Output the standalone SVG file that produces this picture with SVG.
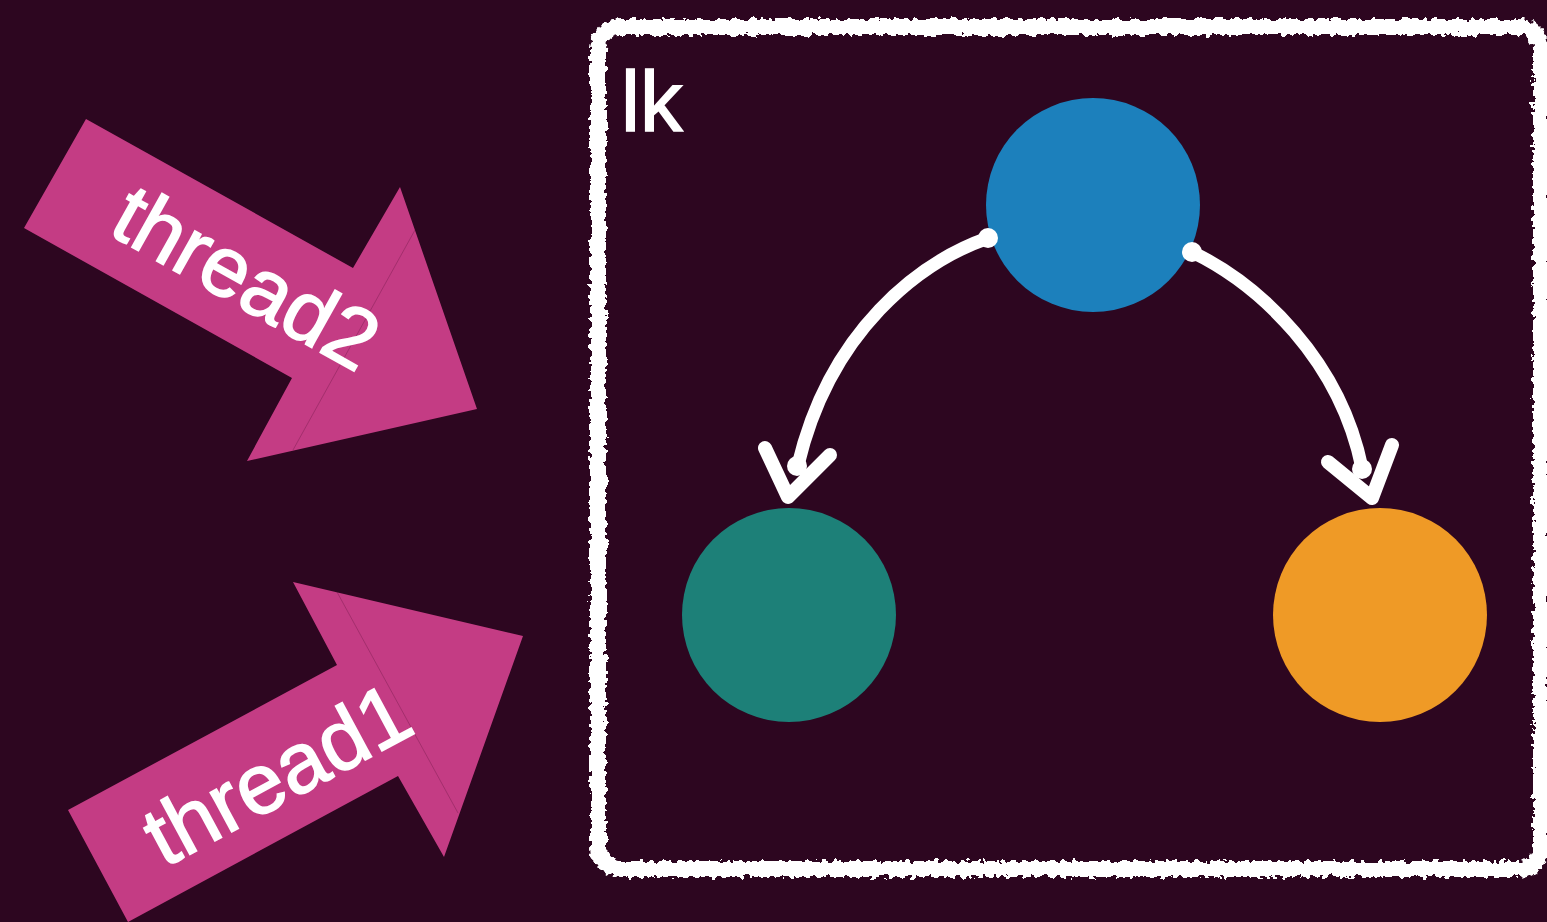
<svg xmlns="http://www.w3.org/2000/svg" width="1547" height="922" viewBox="0 0 1547 922">
  <style>
    .thread { fill: #c43c84; }
    .seam { stroke: #5a1038; stroke-width: 1; stroke-opacity: 0.3; fill: none; }
    .label { font-family: "Liberation Sans", Arial, Helvetica, sans-serif; fill: #ffffff; stroke: #ffffff; stroke-width: 1.6; font-size: 85px; }
    .conn { fill: none; stroke: #ffffff; stroke-width: 13; stroke-linecap: round; stroke-linejoin: round; }
    .head { fill: none; stroke: #ffffff; stroke-width: 14; stroke-linecap: round; stroke-linejoin: round; }
    .dot { fill: #ffffff; }
  </style>
  <defs>
    <filter id="rough" x="-3%" y="-3%" width="106%" height="106%">
      <feTurbulence type="fractalNoise" baseFrequency="0.18" numOctaves="2" seed="4" result="n"/>
      <feDisplacementMap in="SourceGraphic" in2="n" scale="10" xChannelSelector="R" yChannelSelector="G"/>
    </filter>
  </defs>
  <rect x="0" y="0" width="1547" height="922" fill="#2d0620"/>

  <g id="thread2">
    <polygon class="thread" points="86,119 353,268 400,187 477,409 247,461 292,378 24,228"/>
    <line class="seam" x1="415" y1="230" x2="293" y2="450"/>
    <text class="label" x="232" y="303" text-anchor="middle" transform="rotate(29.2 232 303)">thread2</text>
  </g>

  <g id="thread1">
    <polygon class="thread" points="68,810 337,665 293,582 523,636 444,857 398,776 128,922"/>
    <line class="seam" x1="337" y1="592" x2="458" y2="813"/>
    <text class="label" x="291" y="800" text-anchor="middle" transform="rotate(-28.3 291 800)">thread1</text>
  </g>

  <g id="lk">
    <rect x="598" y="27" width="943" height="842" rx="22" fill="none" stroke="#ffffff" stroke-width="16" filter="url(#rough)"/>
    <text class="label" x="621" y="131">lk</text>
  </g>

  <g id="node-root">
    <circle cx="1093" cy="205" r="107" fill="#1c80bc"/>
  </g>
  <g id="node-left">
    <circle cx="789" cy="615" r="107" fill="#1d8078"/>
  </g>
  <g id="node-right">
    <circle cx="1380" cy="615" r="107" fill="#ef9a26"/>
  </g>

  <g id="connectors">
    <path class="conn" d="M 988 238 C 920 262, 830 330, 798 465"/>
    <circle class="dot" cx="988" cy="238" r="10"/>
    <circle class="dot" cx="797" cy="466" r="10"/>
    <path class="head" d="M 765 448 L 788 497 L 830 455"/>
    <path class="conn" d="M 1192 252 C 1260 285, 1340 360, 1362 468"/>
    <circle class="dot" cx="1192" cy="252" r="10"/>
    <circle class="dot" cx="1362" cy="469" r="10"/>
    <path class="head" d="M 1328 462 L 1372 498 L 1392 445"/>
  </g>
</svg>
